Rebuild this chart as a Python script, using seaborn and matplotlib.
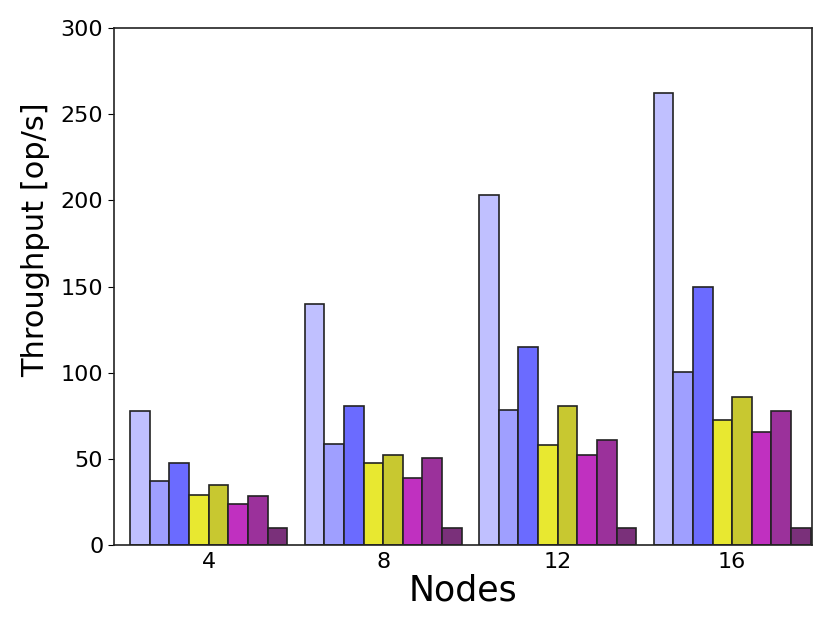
import pandas as pd
import numpy as np
import matplotlib.pyplot as plt
import seaborn as sns

nodes = ['4', '8', '12', '16']
series = ['s1', 's2', 's3', 's4', 's5', 's6', 's7', 's8']
s1 = [78, 140, 203, 262.5]
s2 = [37, 58.5, 78.5, 100.5]
s3 = [47.5, 81, 115, 150]
s4 = [29, 47.5, 58, 72.5]
s5 = [35, 52, 81, 86]
s6 = [24, 39, 52, 65.5]
s7 = [28.5, 50.5, 61, 78]
s8 = [10, 10, 10, 10]
colors = ['#c0c0ff', '#9f9fff', '#6b6bff', '#e8e830', '#c8c830', '#c030c0', '#9b319b', '#7a307a']

rows = []
for name, vals in zip(series, [s1, s2, s3, s4, s5, s6, s7, s8]):
    for n, v in zip(nodes, vals):
        rows.append({'Nodes': n, 'series': name, 'val': v})
df = pd.DataFrame(rows)

sns.set_style('white')
plt.rcParams['font.family'] = ['DejaVu Sans']
plt.rcParams['text.color'] = 'black'
plt.rcParams['axes.labelcolor'] = 'black'
plt.rcParams['xtick.color'] = 'black'
plt.rcParams['ytick.color'] = 'black'
fig, ax = plt.subplots(figsize=(8.3, 6.23), dpi=100)
sns.barplot(data=df, x='Nodes', y='val', hue='series', order=nodes, hue_order=series,
            palette=colors, saturation=1, width=0.9, edgecolor='#222222', linewidth=1.2,
            legend=False, ax=ax)

ax.set_xlim(-0.544, 3.456)
ax.set_ylim(0, 300)
ax.set_yticks([0, 50, 100, 150, 200, 250, 300])
ax.set_xlabel('Nodes', fontsize=25)
ax.set_ylabel('Throughput [op/s]', fontsize=22)
ax.yaxis.set_label_coords(-0.091, 0.59)
ax.xaxis.set_label_coords(0.5, -0.055)
ax.tick_params(axis='y', labelsize=16, length=4, direction='out', left=True)
ax.tick_params(axis='x', labelsize=16, length=0, pad=5)
for sp in ax.spines.values():
    sp.set_color('#222222')
    sp.set_linewidth(1.2)

plt.subplots_adjust(left=0.137, right=0.978, top=0.955, bottom=0.125)
plt.savefig('out.png')
